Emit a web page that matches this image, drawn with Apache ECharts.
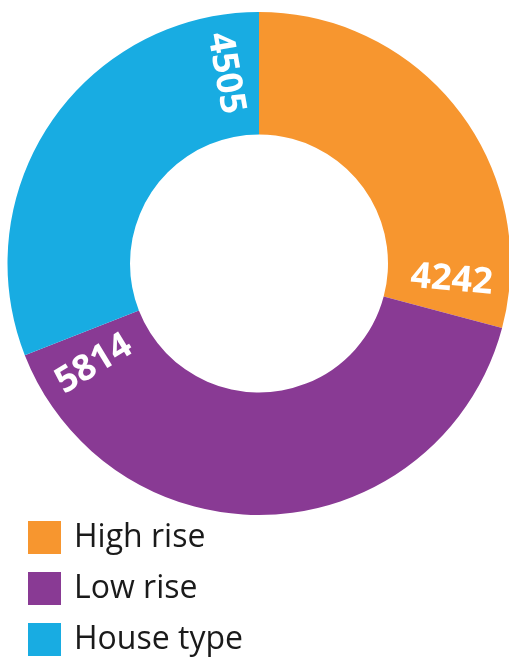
<!DOCTYPE html>
<html><head><meta charset="utf-8">
<script src="https://cdn.jsdelivr.net/npm/echarts@6/dist/echarts.min.js"></script>
<style>html,body{margin:0;padding:0;background:#fff}#c{width:509px;height:662px}</style>
</head><body><div id="c"></div>
<script>
const categories = ['High rise', 'Low rise', 'House type'];
const values = [4242, 5814, 4505];
const colors = ['#F7962F', '#893A94', '#18ACE2'];

// labels sit a fixed angle back from the end of each slice
const labelBackDeg = 10;
const total = values.reduce((a, b) => a + b, 0);
const k = total * (2 * labelBackDeg) / 360;
const labelData = [];
values.forEach((v, i) => {
  labelData.push({ value: v - k, name: '_rest' + i, label: { show: false } });
  labelData.push({ value: k, name: String(v) });
});

const chart = echarts.init(document.getElementById('c'), null, { renderer: 'canvas' });
chart.setOption({
  animation: false,
  color: colors,
  legend: {
    data: categories,
    orient: 'vertical',
    left: 28,
    top: 521,
    padding: 0,
    icon: 'rect',
    itemWidth: 33,
    itemHeight: 33,
    itemGap: 18,
    selectedMode: false,
    textStyle: { fontFamily: 'Open Sans', fontSize: 32, color: '#1a1a1a', padding: [4, 0, 0, 8] }
  },
  series: [
    {
      type: 'pie',
      center: [259, 263.5],
      radius: [129, 251.5],
      startAngle: 90,
      clockwise: true,
      label: { show: false },
      labelLine: { show: false },
      emphasis: { disabled: true },
      data: categories.map((c, i) => ({ name: c, value: values[i] }))
    },
    {
      type: 'pie',
      center: [259, 263.5],
      radius: [129, 251.5],
      startAngle: 90,
      clockwise: true,
      silent: true,
      z: 5,
      avoidLabelOverlap: false,
      itemStyle: { color: 'rgba(0,0,0,0)' },
      emphasis: { disabled: true },
      labelLine: { show: false },
      label: {
        show: true,
        position: 'inside',
        rotate: 'radial',
        formatter: '{b}',
        color: '#fff',
        fontFamily: 'Open Sans',
        fontWeight: 'bold',
        fontSize: 36
      },
      data: labelData
    }
  ]
});
</script>
</body></html>
